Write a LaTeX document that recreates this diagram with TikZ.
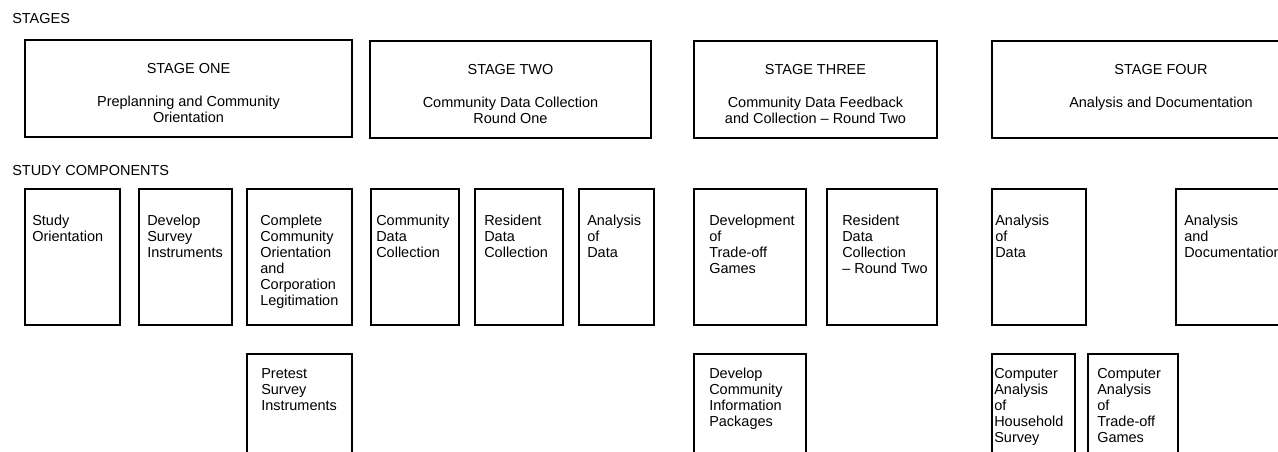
\documentclass[tikz,border=0pt]{standalone}
\usepackage{fontspec}
\setmainfont{Liberation Sans}
\usetikzlibrary{positioning}
\tikzset{
  box/.style={draw,line width=1pt,anchor=north west,inner sep=0pt,outer sep=0pt},
  stagebox/.style={box,minimum height=2.425cm},
  compbox/.style={box,minimum height=3.4cm},
  lowbox/.style={box,minimum height=3cm},
  txt/.style={inner sep=0pt,align=left,font=\fontsize{10.3}{11.4}\selectfont},
  stagetxt/.style={txt,align=center},
}
\begin{document}
\begin{tikzpicture}
\useasboundingbox (0,0) rectangle (31.95,-11.3);
\clip (0,0) rectangle (31.95,-11.3);
\node[txt,anchor=north west] (stages) at (0.3,-0.33) {STAGES};
\node[txt,anchor=north west] (comps) at (0.3,-4.125) {STUDY COMPONENTS};
% the four stages
\node[stagebox,minimum width=8.175cm] (st1) at (0.625,-1.0) {};
\node[stagebox,minimum width=7.025cm] (st2) at (9.25,-1.025) {};
\node[stagebox,minimum width=6.075cm] (st3) at (17.35,-1.025) {};
\node[stagebox,minimum width=8.45cm] (st4) at (24.8,-1.025) {};
\node[stagetxt,below=0.575cm of st1.north] (st1t) {STAGE ONE\\[12pt]Preplanning and Community\\Orientation};
\node[stagetxt,below=0.575cm of st2.north] (st2t) {STAGE TWO\\[12pt]Community Data Collection\\Round One};
\node[stagetxt,below=0.575cm of st3.north] (st3t) {STAGE THREE\\[12pt]Community Data Feedback\\and Collection -- Round Two};
\node[stagetxt,below=0.575cm of st4.north] (st4t) {STAGE FOUR\\[12pt]Analysis and Documentation};
% study components
\node[compbox,minimum width=2.375cm] (orient) at (0.625,-4.725) {};
\node[compbox,minimum width=2.325cm] (survey) at (3.475,-4.725) {};
\node[compbox,minimum width=2.625cm] (legit) at (6.175,-4.725) {};
\node[compbox,minimum width=2.2cm] (cdata) at (9.275,-4.725) {};
\node[compbox,minimum width=2.2cm] (rdata) at (11.875,-4.725) {};
\node[compbox,minimum width=1.875cm] (anal1) at (14.475,-4.725) {};
\node[compbox,minimum width=2.8cm] (games) at (17.35,-4.725) {};
\node[compbox,minimum width=2.75cm] (rdata2) at (20.675,-4.725) {};
\node[compbox,minimum width=2.35cm] (anal2) at (24.8,-4.725) {};
\node[compbox,minimum width=3.5cm] (docu) at (29.4,-4.725) {};
\node[txt,below right=0.65cm and 0.175cm of orient.north west] (orientt) {Study\\Orientation};
\node[txt,below right=0.65cm and 0.2cm of survey.north west] (surveyt) {Develop\\Survey\\Instruments};
\node[txt,below right=0.65cm and 0.325cm of legit.north west] (legitt) {Complete\\Community\\Orientation\\and\\Corporation\\Legitimation};
\node[txt,below right=0.65cm and 0.125cm of cdata.north west] (cdatat) {Community\\Data\\Collection};
\node[txt,below right=0.65cm and 0.225cm of rdata.north west] (rdatat) {Resident\\Data\\Collection};
\node[txt,below right=0.65cm and 0.2cm of anal1.north west] (anal1t) {Analysis\\of\\Data};
\node[txt,below right=0.65cm and 0.375cm of games.north west] (gamest) {Development\\of\\Trade-off\\Games};
\node[txt,below right=0.65cm and 0.375cm of rdata2.north west] (rdata2t) {Resident\\Data\\Collection\\-- Round Two};
\node[txt,below right=0.65cm and 0.075cm of anal2.north west] (anal2t) {Analysis\\of\\Data};
\node[txt,below right=0.65cm and 0.2cm of docu.north west] (docut) {Analysis\\and\\Documentation};
% lower row
\node[lowbox,minimum width=2.625cm] (pretest) at (6.175,-8.85) {};
\node[lowbox,minimum width=2.8cm] (infopack) at (17.35,-8.85) {};
\node[lowbox,minimum width=2.075cm] (comphh) at (24.8,-8.85) {};
\node[lowbox,minimum width=2.25cm] (compgames) at (27.2,-8.85) {};
\node[txt,below right=0.35cm and 0.35cm of pretest.north west] (pretestt) {Pretest\\Survey\\Instruments};
\node[txt,below right=0.35cm and 0.375cm of infopack.north west] (infopackt) {Develop\\Community\\Information\\Packages};
\node[txt,below right=0.35cm and 0.05cm of comphh.north west] (comphht) {Computer\\Analysis\\of\\Household\\Survey};
\node[txt,below right=0.35cm and 0.225cm of compgames.north west] (compgamest) {Computer\\Analysis\\of\\Trade-off\\Games};
\end{tikzpicture}
\end{document}
